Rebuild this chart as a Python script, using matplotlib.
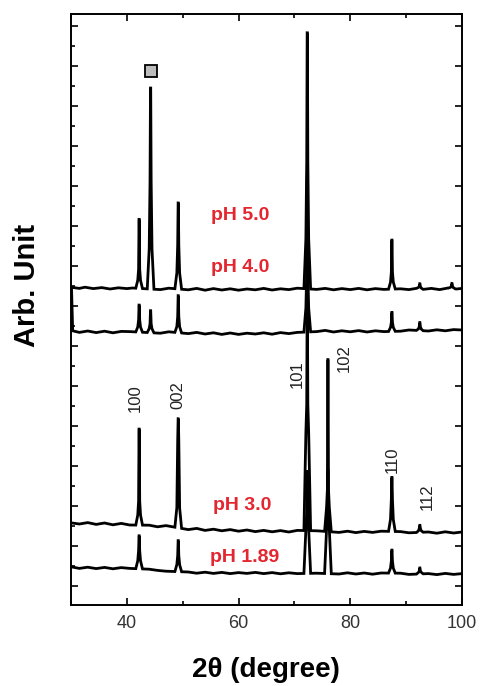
import numpy as np
import matplotlib
matplotlib.use("Agg")
import matplotlib.pyplot as plt
from matplotlib.ticker import MultipleLocator

plt.rcParams['font.family'] = ['Liberation Sans', 'DejaVu Sans']

# stacked XRD patterns, intensities in arbitrary units above each baseline
samples = ['pH 1.89', 'pH 3.0', 'pH 4.0', 'pH 5.0']
offsets = [80, 290, 1270, 1485]

# baselines (2theta, intensity), noisy background
base_x = {
    'pH 5.0': [30.2, 31.5, 32.5, 34, 35.5, 37, 38.5, 40, 41, 46, 47.5, 51, 52.5, 54, 55.5,
               57, 58.5, 60, 61.5, 63, 64.5, 66, 67.5, 69, 70.5, 74, 75.5, 77, 78.5, 80,
               81.5, 83, 84.5, 86, 89, 90.5, 92, 93, 94.5, 96, 97.5, 99, 100],
    'pH 4.0': [30.1, 30.3, 31.5, 33, 34.5, 36, 37.5, 39, 40.5, 46, 47.5, 51, 52.5, 54, 55.5,
               57, 58.5, 60, 61.5, 63, 64.5, 66, 67.5, 69, 70.5, 74, 75.5, 77, 78.5, 80,
               81.5, 83, 84.5, 86, 89, 90.5, 94, 95.5, 97, 98.5, 100],
    'pH 3.0': [30.2, 31.5, 33, 34.5, 36, 37.5, 39, 40.5, 44, 45.5, 47, 51, 52.5, 54, 55.5,
               57, 58.5, 60, 61.5, 63, 64.5, 66, 67.5, 69, 70.5, 74, 78, 79.5, 81, 82.5,
               84, 85.5, 89, 90.5, 94, 95.5, 97, 98.5, 100],
    'pH 1.89': [30.2, 31.5, 33, 34.5, 36, 37.5, 39, 40.5, 44, 45.5, 47, 51, 52.5, 54, 55.5,
                57, 58.5, 60, 61.5, 63, 64.5, 66, 67.5, 69, 70.5, 74, 78, 79.5, 81, 82.5,
                84, 85.5, 89, 90.5, 94, 95.5, 97, 98.5, 100],
}
base_y = {
    'pH 5.0': [8, 3, 9, 2, 7, 0, 6, 2, 5, -3, 4, -4, 3, -6, 2, -5, 1, -6, 0, -4, 3, -5, 1,
               -3, 4, -2, 3, -4, 2, -3, 3, -4, 2, -2, 1, -3, 4, -2, 3, -3, 5, 0, 3],
    'pH 4.0': [215, 6, -2, 5, -3, 4, -4, 3, 2, -6, 1, -8, -2, -10, -4, -12, -5, -12, -6, -10,
               -4, -11, -3, -8, -2, 2, 8, 0, 6, 1, 7, 0, 6, 2, 4, 10, 5, 11, 6, 12, 10],
    'pH 3.0': [25, 20, 27, 18, 25, 16, 23, 15, 14, 6, 12, -8, -2, -12, -6, -14, -8, -16, -10,
               -18, -12, -19, -13, -20, -12, -14, -22, -16, -23, -17, -22, -16, -18, -24,
               -20, -26, -19, -25, -20],
    'pH 1.89': [15, 8, 14, 7, 13, 6, 12, 8, 4, -2, -6, -10, -16, -11, -17, -12, -18, -13,
                -17, -12, -18, -13, -19, -14, -18, -16, -20, -14, -20, -15, -21, -15, -16,
                -22, -18, -23, -17, -22, -18],
}

# peaks: centre, top, upper shoulder, lower shoulder
peak_pos = {
    'pH 5.0': [42.2, 44.25, 49.2, 72.3, 87.45, 92.45, 98.2],
    'pH 4.0': [42.2, 44.25, 49.2, 72.3, 87.45, 92.45],
    'pH 3.0': [42.2, 49.2, 72.3, 76.0, 87.45, 92.45],
    'pH 1.89': [42.2, 49.2, 72.3, 76.0, 87.45, 92.45],
}
peak_top = {
    'pH 5.0': [345, 1005, 430, 1280, 245, 25, 25],
    'pH 4.0': [135, 110, 185, 775, 95, 40],
    'pH 3.0': [480, 545, 1155, 860, 270, 35],
    'pH 1.89': [165, 155, 510, 515, 115, 30],
}
peak_sh = {
    'pH 5.0': [95, 540, 220, 635, 85, 12, 12],
    'pH 4.0': [60, 45, 80, 300, 45, 20],
    'pH 3.0': [120, 435, 630, 210, 160, 20],
    'pH 1.89': [90, 80, 300, 300, 60, 15],
}
peak_base = {
    'pH 5.0': [40, 200, 80, 250, 35, 5, 5],
    'pH 4.0': [25, 20, 30, 120, 20, 8],
    'pH 3.0': [50, 100, 490, 120, 60, 8],
    'pH 1.89': [40, 35, 220, 220, 25, 8],
}

hkl = ['100', '002', '101', '102', '110', '112']
hkl_pos = [(41.44, 940), (49.16, 955), (70.54, 1060), (78.98, 1140), (87.6, 630), (93.71, 445)]
label_pos = {'pH 5.0': (60.3, 1855), 'pH 4.0': (60.3, 1590),
             'pH 3.0': (60.66, 405), 'pH 1.89': (61.0, 145)}

fig = plt.figure(figsize=(4.81, 6.86), dpi=100)
ax = fig.add_axes([71/481, 81/686, 391/481, 591/686])

dx = np.array([-0.6, -0.25, -0.1, -0.02, 0.02, 0.1, 0.25, 0.6])
for name, off in zip(samples, offsets):
    pts = list(base_x[name])
    for c in peak_pos[name]:
        pts = [p for p in pts if abs(p - c) > 0.6]
        pts += list(c + dx)
    xs = np.array(sorted(set(pts)))
    ys = np.interp(xs, base_x[name], base_y[name])
    for c, t, s, b in zip(peak_pos[name], peak_top[name], peak_sh[name], peak_base[name]):
        ys = ys + np.interp(xs, c + dx, [0, b, s, t, t, s, b, 0], left=0, right=0)
    ax.plot(xs, ys + off, color='black', lw=2.0, solid_joinstyle='miter')
    lx, ly = label_pos[name]
    ax.text(lx, ly, name, color='#e3262f', fontsize=14, fontweight='bold',
            ha='center', va='center')

for h, (hx, hy) in zip(hkl, hkl_pos):
    ax.text(hx, hy, h, rotation=90, fontsize=12, color='#222222',
            ha='center', va='center')

# impurity marker
ax.plot(44.3, 2575, marker='s', ms=8, mfc='#bdbdbd', mec='black', mew=1.3)

ax.set_xlim(30, 100)
ax.set_ylim(-95, 2860)
ax.xaxis.set_major_locator(MultipleLocator(20))
ax.xaxis.set_minor_locator(MultipleLocator(10))
ax.yaxis.set_major_locator(MultipleLocator(200))
ax.yaxis.set_minor_locator(MultipleLocator(100))
ax.tick_params(which='both', direction='in', top=True, right=True, width=1.2)
ax.tick_params(which='major', length=5)
ax.tick_params(which='minor', length=3)
ax.tick_params(axis='y', which='minor', right=False)
ax.tick_params(axis='y', labelleft=False)
ax.tick_params(axis='x', labelsize=13, labelcolor='#333333', pad=7)
for sp in ax.spines.values():
    sp.set_linewidth(1.4)

fig.text(266/481, 1 - 670/686, '2θ (degree)', fontsize=20, fontweight='bold',
         ha='center', va='center')
fig.text(27/481, 1 - 285/686, 'Arb. Unit', fontsize=21, fontweight='bold',
         rotation=90, ha='center', va='center')

fig.savefig('out.png', dpi=100)
